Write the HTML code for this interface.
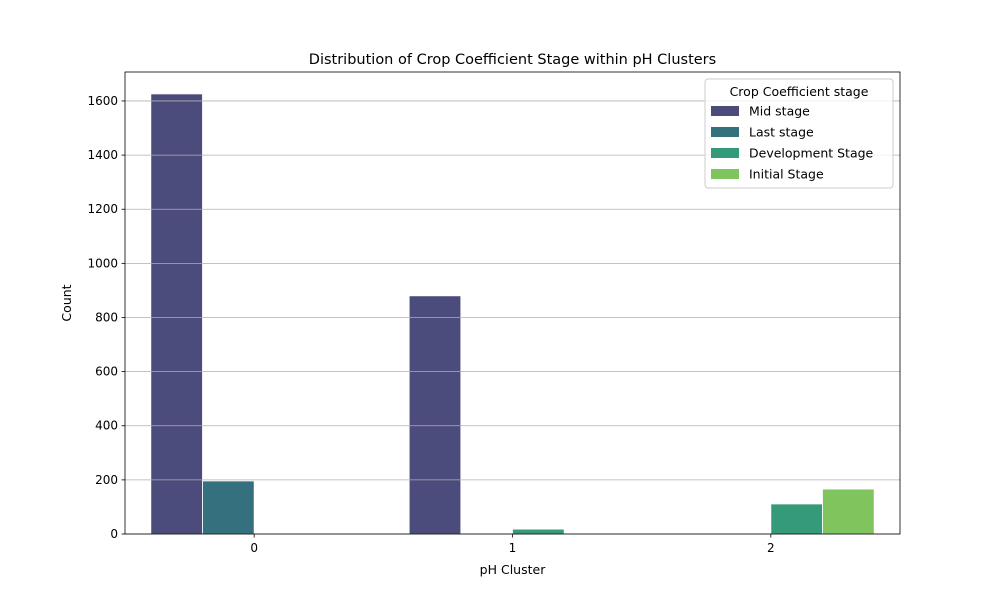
<!DOCTYPE html>
<html><head><meta charset="utf-8"><style>
body{margin:0;background:#fff;font-family:"Liberation Sans","DejaVu Sans",sans-serif;}
svg text{font-family:"DejaVu Sans","Liberation Sans",sans-serif;fill:#000;}
</style></head><body>
<svg id="chart" width="1000" height="600" xmlns="http://www.w3.org/2000/svg"></svg>
<script>
const categories = ["0","1","2"];
const stages = ["Mid stage","Last stage","Development Stage","Initial Stage"];
const midStage = [1626, 880, 0];
const lastStage = [196, 3, 0];
const devStage = [0, 18, 111];
const initStage = [0, 0, 166];
const yTicks = [0,200,400,600,800,1000,1200,1400,1600];
const colors = ["#4b4b7c","#35707f","#359a79","#80c45d"];
const series = [midStage, lastStage, devStage, initStage];

const svg = document.getElementById('chart');
const NS = "http://www.w3.org/2000/svg";
const L=125,R=900,T=72,B=534, yMax=1707;
const xs = v => L + (v+0.5)/3*(R-L);
const ys = v => B - v/yMax*(B-T);
function mk(tag, attrs, parent){const e=document.createElementNS(NS,tag);for(const k in attrs)e.setAttribute(k,attrs[k]);(parent||svg).appendChild(e);return e;}

// bars
const bw = 0.2*(R-L)/3;
series.forEach((s,si)=>{
  s.forEach((v,ci)=>{
    const x = xs(ci) + (si-2)*bw;
    const r=mk('rect',{x:x,y:ys(v),width:bw,height:B-ys(v),fill:colors[si],stroke:'#fff','stroke-width':0.8});
    
    
  });
});
// gridlines (drawn above bars)
yTicks.forEach(t=>{
  const g=mk('line',{x1:L,x2:R,y1:ys(t),y2:ys(t),stroke:'#b0b0b0','stroke-width':0.8});
  
  
  mk('line',{x1:L-3.5,x2:L,y1:ys(t),y2:ys(t),stroke:'#000','stroke-width':0.8});
  const tx=mk('text',{x:L-7,y:ys(t)+4,'text-anchor':'end','font-size':12});
  tx.textContent=t;
  
  
});
// x ticks
categories.forEach((c,i)=>{
  mk('line',{x1:xs(i),x2:xs(i),y1:B,y2:B+3.5,stroke:'#000','stroke-width':0.8});
  const tx=mk('text',{x:xs(i),y:B+18,'text-anchor':'middle','font-size':12});
  tx.textContent=c;
  
  
});
// frame
const fr=mk('rect',{x:L,y:T,width:R-L,height:B-T,fill:'none',stroke:'#000','stroke-width':0.8});


// titles
let t=mk('text',{x:(L+R)/2,y:64,'text-anchor':'middle','font-size':14.5});
t.textContent='Distribution of Crop Coefficient Stage within pH Clusters';


t=mk('text',{x:(L+R)/2,y:574,'text-anchor':'middle','font-size':12.5});
t.textContent='pH Cluster';


t=mk('text',{x:71,y:303,'text-anchor':'middle','font-size':12.5,transform:'rotate(-90 71 303)'});
t.textContent='Count';


// legend
const lg=mk('g',{});


mk('rect',{x:705,y:79,width:188,height:109,fill:'#fff','fill-opacity':0.8,stroke:'#ccc',rx:3},lg);
t=mk('text',{x:799,y:96,'text-anchor':'middle','font-size':12.5},lg);
t.textContent='Crop Coefficient stage';


stages.forEach((s,i)=>{
  const y=111+i*21;
  const e=mk('g',{},lg);
  
  
  mk('rect',{x:711,y:y-5,width:28,height:10,fill:colors[i]},e);
  const tx=mk('text',{x:749,y:y+4.5,'font-size':12.5},e);
  tx.textContent=s;
});
</script>
</body></html>
